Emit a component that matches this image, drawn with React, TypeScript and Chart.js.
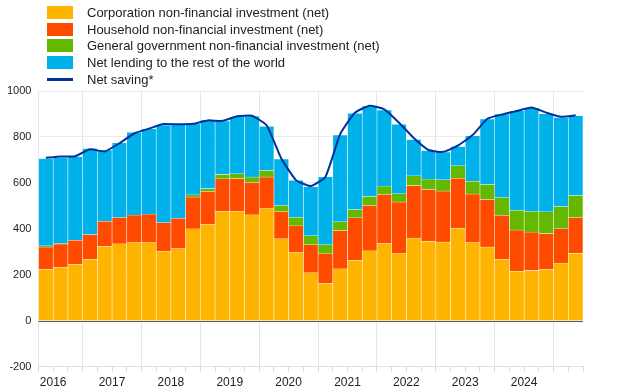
import React, { useEffect, useRef } from "react";
import { Chart, registerables } from "chart.js";

Chart.register(...registerables);

const quarters = [
  "2016Q2", "2016Q3", "2016Q4",
  "2017Q1", "2017Q2", "2017Q3", "2017Q4",
  "2018Q1", "2018Q2", "2018Q3", "2018Q4",
  "2019Q1", "2019Q2", "2019Q3", "2019Q4",
  "2020Q1", "2020Q2", "2020Q3", "2020Q4",
  "2021Q1", "2021Q2", "2021Q3", "2021Q4",
  "2022Q1", "2022Q2", "2022Q3", "2022Q4",
  "2023Q1", "2023Q2", "2023Q3", "2023Q4",
  "2024Q1", "2024Q2", "2024Q3", "2024Q4",
  "2025Q1", "2025Q2",
];

const yearLabels = ["2016", "2017", "2018", "2019", "2020", "2021", "2022", "2023", "2024"];

const corporation = [
  223, 233, 246, 267, 324, 335, 340, 340, 302, 314, 400, 420, 476, 476, 461, 488,
  357, 298, 209, 162, 226, 263, 304, 336, 292, 360, 346, 343, 403, 340, 321, 267,
  215, 219, 223, 251, 293,
];

const household = [
  98, 101, 104, 108, 109, 114, 120, 124, 125, 132, 139, 142, 142, 143, 141, 138,
  118, 115, 122, 129, 167, 185, 197, 213, 225, 228, 225, 222, 217, 212, 207, 192,
  180, 167, 156, 150, 156,
];

const government = [
  5, 2, -6, -6, -6, -6, -6, -6, 0, 0, 9, 13, 19, 21, 24, 28,
  26, 36, 39, 40, 38, 36, 40, 37, 36, 43, 46, 49, 55, 55, 65, 77,
  86, 90, 95, 96, 96,
];

const netLending = [
  380, 375, 365, 375, 310, 326, 360, 372, 425, 410, 309, 299, 233, 248, 265, 193,
  203, 162, 213, 296, 377, 419, 394, 331, 302, 158, 124, 121, 83, 198, 285, 364,
  433, 451, 427, 388, 347,
];

const netSaving = [
  709, 715, 716, 746, 737, 772, 815, 836, 856, 855, 857, 872, 870, 890, 892, 851,
  706, 612, 586, 626, 812, 905, 936, 920, 862, 795, 743, 735, 762, 808, 879, 898,
  913, 928, 906, 888, 894,
];

const COLORS = {
  corp: "#FFB400",
  hh: "#FF4B00",
  gov: "#65B800",
  nl: "#00B1EA",
  saving: "#003299",
};

const legendItems = [
  { label: "Corporation non-financial investment (net)", color: COLORS.corp, line: false },
  { label: "Household non-financial investment (net)", color: COLORS.hh, line: false },
  { label: "General government non-financial investment (net)", color: COLORS.gov, line: false },
  { label: "Net lending to the rest of the world", color: COLORS.nl, line: false },
  { label: "Net saving*", color: COLORS.saving, line: true },
];

const FONT = "Arial, 'Liberation Sans', Helvetica, sans-serif";

export default function App() {
  const canvasRef = useRef<HTMLCanvasElement | null>(null);

  useEffect(() => {
    document.body.style.margin = "0";
    const canvas = canvasRef.current;
    if (!canvas) return;

    const zeroLine = {
      id: "zeroLine",
      afterDatasetsDraw(chart: any) {
        const { ctx, chartArea, scales } = chart;
        const y = Math.round(scales.y.getPixelForValue(0)) + 0.5;
        ctx.save();
        ctx.strokeStyle = "rgb(100,85,60)";
        ctx.lineWidth = 1.2;
        ctx.beginPath();
        ctx.moveTo(chartArea.left, y);
        ctx.lineTo(chartArea.right, y);
        ctx.stroke();
        ctx.restore();
      },
    };

    const barCommon = {
      type: "bar" as const,
      stack: "s",
      order: 1,
      borderWidth: 0.6,
      borderColor: "rgba(255,255,255,0.4)",
      barPercentage: 1,
      categoryPercentage: 1,
    };

    const chart = new Chart(canvas, {
      type: "bar",
      data: {
        labels: quarters,
        datasets: [
          { ...barCommon, label: legendItems[0].label, data: corporation, backgroundColor: COLORS.corp },
          { ...barCommon, label: legendItems[1].label, data: household, backgroundColor: COLORS.hh },
          { ...barCommon, label: legendItems[2].label, data: government, backgroundColor: COLORS.gov },
          { ...barCommon, label: legendItems[3].label, data: netLending, backgroundColor: COLORS.nl },
          {
            type: "line",
            label: legendItems[4].label,
            data: netSaving,
            stack: "line",
            order: 0,
            borderColor: COLORS.saving,
            borderWidth: 2,
            pointRadius: 0,
            tension: 0.15,
            fill: false,
          } as any,
        ],
      },
      options: {
        responsive: false,
        animation: false,
        devicePixelRatio: 1,
        layout: { padding: { top: 91, left: 0, right: 37, bottom: -6 } },
        plugins: { legend: { display: false }, tooltip: { enabled: false } },
        scales: {
          x: {
            type: "category",
            stacked: true,
            offset: true,
            grid: {
              offset: true,
              color: (ctx: any) =>
                ctx.index === 0 || ctx.index === quarters.length || ctx.index % 4 === 3
                  ? "#e6e6e6"
                  : "rgba(0,0,0,0)",
              tickColor: "#d9d9d9",
              tickLength: 5,
              lineWidth: 1,
            },
            border: { display: true, color: "#e0e0e0" },
            ticks: {
              autoSkip: false,
              maxRotation: 0,
              minRotation: 0,
              padding: 4,
              labelOffset: -7.4,
              color: "#222",
              font: { family: FONT, size: 12 },
              callback: (_v: any, i: number) =>
                i % 4 === 1 && (i - 1) / 4 < yearLabels.length ? yearLabels[(i - 1) / 4] : "",
            },
          },
          y: {
            stacked: true,
            min: -200,
            max: 1000,
            grid: { color: "#ebebeb", drawTicks: false, lineWidth: 1 },
            border: { display: false },
            ticks: {
              stepSize: 200,
              padding: 7,
              color: "#222",
              font: { family: FONT, size: 11 },
              callback: (v: any) => String(v),
            },
          },
        },
      },
      plugins: [zeroLine],
    });

    return () => chart.destroy();
  }, []);

  return (
    <div style={{ position: "relative", width: 620, height: 388, background: "#fff", fontFamily: FONT }}>
      <canvas ref={canvasRef} width={620} height={388} style={{ position: "absolute", left: 0, top: 0 }} />
      <div style={{ position: "absolute", left: 0, top: 0 }}>
        {legendItems.map((it, i) => (
          <div
            key={it.label}
            style={{
              position: "absolute",
              left: 47,
              top: 4 + i * 16.7,
              height: 17,
              display: "flex",
              alignItems: "center",
              whiteSpace: "nowrap",
              fontSize: 13,
              color: "#222",
            }}
          >
            <span
              style={{
                display: "inline-block",
                width: 26,
                height: it.line ? 3 : 13,
                background: it.color,
                marginRight: 14,
              }}
            />
            <span style={{ lineHeight: "17px" }}>{it.label}</span>
          </div>
        ))}
      </div>
    </div>
  );
}
